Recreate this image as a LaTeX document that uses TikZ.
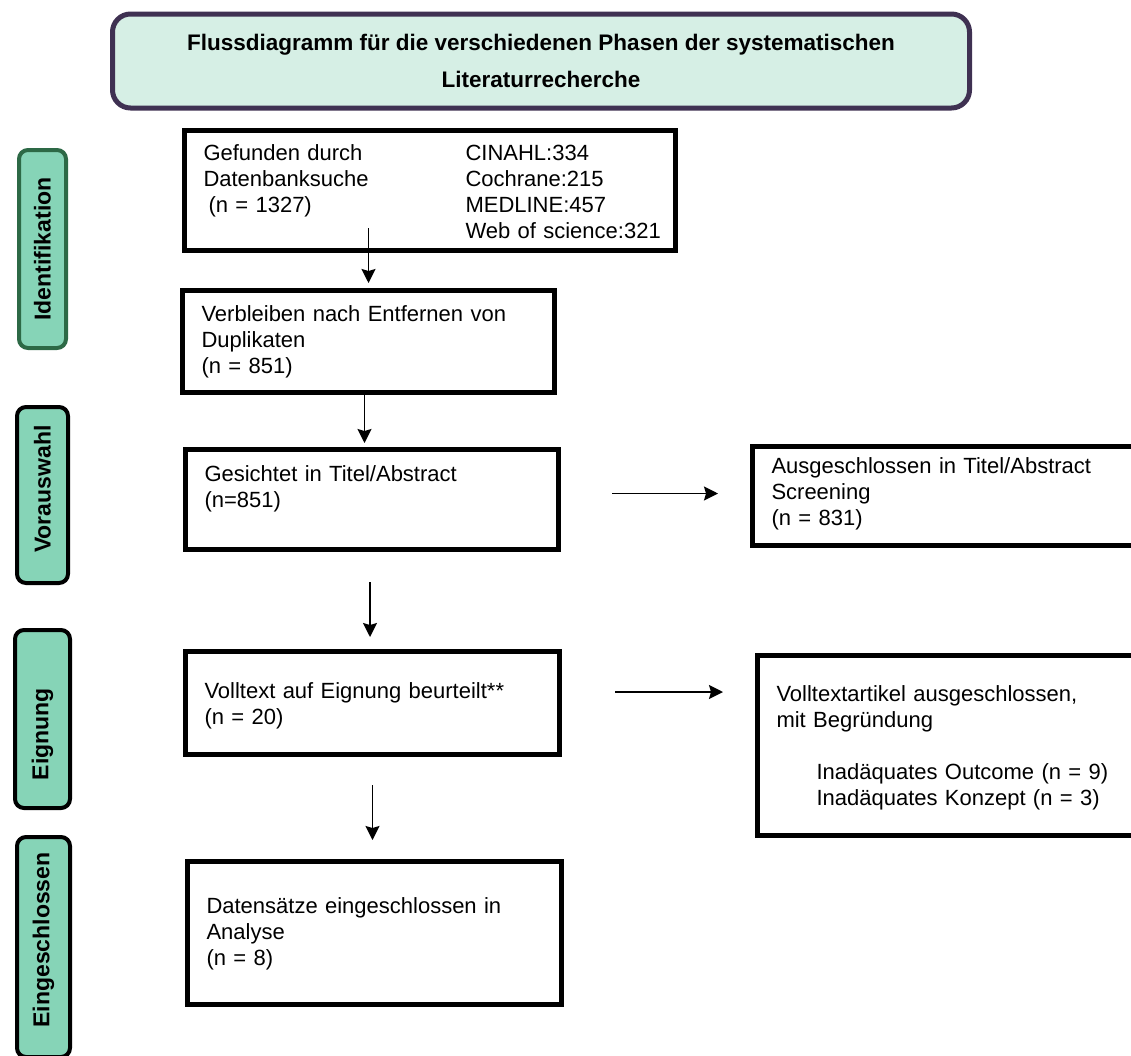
\documentclass[tikz,border=0pt]{standalone}
\usepackage{fontspec}
\setmainfont{Liberation Sans}
\usepackage{tikz}
\usetikzlibrary{positioning}
\usetikzlibrary{arrows.meta}
\definecolor{phasefill}{RGB}{134,212,183}
\definecolor{titlefill}{RGB}{214,239,229}
\definecolor{titleline}{RGB}{63,49,82}
\definecolor{identline}{RGB}{45,105,70}
\tikzset{
    prisma diagram/.style={
            x=1pt,y=-1pt,
            font=\fontsize{22}{26}\selectfont,
            box/.style={draw,line width=5pt,anchor=north west,align=left,inner xsep=19pt,inner ysep=0pt},
            phase/.style={draw,line width=4pt,fill=phasefill,rounded corners=9pt,rotate=90,inner sep=0pt,
                    font=\bfseries\fontsize{23}{27}\selectfont},
            arrow/.style={-{Stealth[length=14pt,width=14pt,inset=2pt]},line width=1.8pt}
        }
    }

\begin{document}
\begin{tikzpicture}[prisma diagram]
                \useasboundingbox (0,0) rectangle (1131,1055);
                % title
                \node[draw=titleline,fill=titlefill,line width=5pt,rounded corners=18pt,
                    minimum width=857pt,minimum height=94pt,align=center,
                    font=\bfseries\fontsize{22.5}{37}\selectfont] (title) at (541,61)
                    {Flussdiagramm für die verschiedenen Phasen der systematischen\\Literaturrecherche};
                % phases
                \node[phase,draw=identline,minimum width=198pt,minimum height=47pt] (ident) at (42.5,249) {Identifikation};
                \node[phase,minimum width=176pt,minimum height=51pt] (vorauswahl) at (42.5,495) {\hspace*{12pt}Vorauswahl};
                \node[phase,minimum width=178pt,minimum height=55pt] (eignung) at (42.5,719) {Eignung\hspace*{30pt}};
                \node[phase,minimum width=220pt,minimum height=53pt] (eingeschl) at (43.5,947) {\hspace*{14pt}Eingeschlossen};
                % boxes
                \node[box,text width=453pt,text height=29.5pt,text depth=90.5pt] (b1) at (182,128)
                    {\begin{minipage}[t]{262pt}Gefunden durch\\Datenbanksuche\\\hspace*{5pt}(n = 1327)\end{minipage}\begin{minipage}[t]{191pt}CINAHL:334\\Cochrane:215\\MEDLINE:457\\\mbox{Web of science:321}\end{minipage}};
                \node[box,text width=334pt,text height=30.5pt,text depth=71.5pt] (b2) at (180,288)
                    {Verbleiben nach Entfernen von\\Duplikaten\\(n = 851)};
                \node[box,text width=335pt,text height=31.5pt,text depth=68.5pt] (b3) at (183,447)
                    {Gesichtet in Titel/Abstract\\(n=851)};
                \node[box,text width=347pt,text height=26.5pt,text depth=72.5pt] (b4) at (750,444)
                    {Ausgeschlossen in Titel/Abstract\\Screening\\(n = 831)};
                \node[box,text width=336pt,text height=46.5pt,text depth=56.5pt] (b5) at (183,649)
                    {Volltext auf Eignung beurteilt**\\(n = 20)};
                \node[box,text width=342pt,text height=45.5pt,text depth=134.5pt] (b6) at (755,653)
                    {Volltextartikel ausgeschlossen,\\mit Begründung\\[26pt]\hspace*{40pt}Inadäquates Outcome (n = 9)\\\hspace*{40pt}Inadäquates Konzept (n = 3)};
                \node[box,text width=336pt,text height=51.5pt,text depth=91.5pt] (b7) at (185,859)
                    {Datensätze eingeschlossen in\\Analyse\\(n = 8)};
                % arrows
                \draw [arrow,shorten <=-25pt,shorten >=5pt] (b1.south -| b2.north) -- (b2.north);
                \draw [arrow,shorten >=4pt] ([xshift=-4pt]b2.south) -- ([xshift=-4pt]b2.south |- b3.north);
                \draw [arrow,shorten <=30pt,shorten >=12pt] ([xshift=-2pt]b3.south) -- ([xshift=-2pt]b3.south |- b5.north);
                \draw [arrow,shorten <=51pt,shorten >=32pt] ([yshift=6pt]b3.east) -- ([yshift=6pt]b3.east -| b4.west);
                \draw [arrow,shorten <=53pt,shorten >=32pt] ([yshift=11pt]b5.east) -- ([yshift=11pt]b5.east -| b6.west);
                \draw [arrow,shorten <=28pt,shorten >=19pt] (b5.south) -- (b5.south |- b7.north);
            \end{tikzpicture}
\end{document}
